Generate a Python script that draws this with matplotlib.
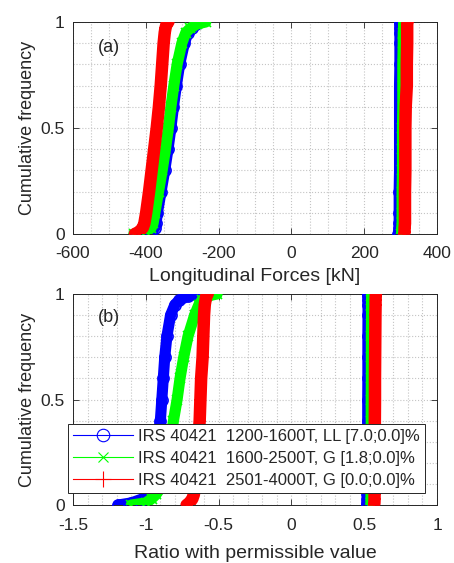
import numpy as np
import matplotlib
matplotlib.use('Agg')
import matplotlib.pyplot as plt
from matplotlib.ticker import MultipleLocator
from matplotlib.lines import Line2D

plt.rcParams['font.family'] = ['Liberation Sans', 'DejaVu Sans']

# cumulative frequency levels at which the curves were read
cum_freq = [0, 0.01, 0.03, 0.05, 0.1, 0.2, 0.3, 0.4, 0.5, 0.6, 0.7, 0.8, 0.9, 0.95, 0.97, 0.99, 1.0]

labels = ['IRS 40421  1200-1600T, LL [7.0;0.0]%',
          'IRS 40421  1600-2500T, G [1.8;0.0]%',
          'IRS 40421  2501-4000T, G [0.0;0.0]%']

# (a) longitudinal forces [kN], compressive side
force_comp_blue = [-425, -385, -375, -372, -368, -358, -348, -339, -331, -324, -316, -307, -294, -284, -274, -262, -255]
force_comp_green = [-433, -400, -385, -380, -375, -365, -355, -346, -338, -331, -323, -314, -301, -290, -278, -260, -235]
force_comp_red = [-430, -418, -408, -404, -399, -391, -384, -377, -370, -364, -359, -355, -351, -348, -346, -343, -338]
# (a) tensile side
force_tens_blue = [294, 295, 296, 296, 296, 296, 297, 297, 297, 297, 297, 298, 298, 298, 298, 299, 299]
force_tens_green = [302, 303, 303, 304, 304, 304, 305, 305, 305, 306, 306, 306, 307, 307, 308, 308, 309]
force_tens_red = [310, 311, 311, 312, 312, 312, 313, 313, 313, 314, 317, 317, 318, 318, 318, 318, 319]

# (b) ratio with permissible value
ratio_comp_blue = [-1.19, -1.10, -1.02, -0.97, -0.94, -0.93, -0.92, -0.90, -0.89, -0.88, -0.87, -0.855, -0.83, -0.80, -0.77, -0.71, -0.66]
ratio_comp_green = [-1.10, -1.00, -0.96, -0.93, -0.88, -0.85, -0.83, -0.81, -0.785, -0.765, -0.74, -0.71, -0.665, -0.635, -0.615, -0.58, -0.51]
ratio_comp_red = [-0.72, -0.70, -0.68, -0.67, -0.66, -0.65, -0.64, -0.63, -0.625, -0.62, -0.61, -0.605, -0.60, -0.595, -0.59, -0.585, -0.575]
ratio_tens_blue = [0.52, 0.521, 0.522, 0.522, 0.523, 0.523, 0.524, 0.524, 0.524, 0.525, 0.525, 0.525, 0.526, 0.526, 0.527, 0.527, 0.528]
ratio_tens_green = [0.545, 0.546, 0.546, 0.547, 0.547, 0.547, 0.548, 0.548, 0.548, 0.549, 0.549, 0.549, 0.55, 0.55, 0.55, 0.551, 0.552]
ratio_tens_red = [0.568, 0.57, 0.571, 0.571, 0.572, 0.572, 0.573, 0.573, 0.574, 0.574, 0.575, 0.576, 0.577, 0.578, 0.578, 0.579, 0.58]

colors = ['#0000ff', '#00ff00', '#ff0000']
markers = ['o', 'x', '+']
band_ms = [8, 7, 8]
band_lw = [8, 8, 9]

fig = plt.figure(figsize=(4.54, 5.63), dpi=100)
ax1 = fig.add_axes([0.1608, 0.5844, 0.8018, 0.3766])
ax2 = fig.add_axes([0.1608, 0.1030, 0.8018, 0.3748])


def draw_band(ax, xs, c, m, ms, lw):
    ax.plot(xs, cum_freq, color=c, lw=lw, solid_capstyle='round', solid_joinstyle='round', zorder=3)
    ax.plot(xs, cum_freq, color=c, lw=1, marker=m, ms=ms, mfc='none', mew=1.2, zorder=3)


for ax, groups in ((ax1, [force_comp_blue, force_comp_green, force_comp_red,
                          force_tens_blue, force_tens_green, force_tens_red]),
                   (ax2, [ratio_comp_blue, ratio_comp_green, ratio_comp_red,
                          ratio_tens_blue, ratio_tens_green, ratio_tens_red])):
    for i, xs in enumerate(groups):
        k = i % 3
        draw_band(ax, xs, colors[k], markers[k], band_ms[k], band_lw[k])

ax1.set_xlim(-600, 400)
ax1.set_xticks([-600, -400, -200, 0, 200, 400])
ax1.set_xticklabels(['-600', '-400', '-200', '0', '200', '400'])
ax1.xaxis.set_minor_locator(MultipleLocator(50))
ax2.set_xlim(-1.5, 1)
ax2.set_xticks([-1.5, -1, -0.5, 0, 0.5, 1])
ax2.set_xticklabels(['-1.5', '-1', '-0.5', '0', '0.5', '1'])
ax2.xaxis.set_minor_locator(MultipleLocator(0.1))

for ax in (ax1, ax2):
    ax.set_ylim(0, 1)
    ax.set_yticks([0, 0.5, 1])
    ax.set_yticklabels(['0', '0.5', '1'])
    ax.yaxis.set_minor_locator(MultipleLocator(0.1))
    ax.grid(True, which='both', linestyle=':', color='#c4c4c4', lw=0.8, zorder=0)
    ax.set_axisbelow(True)
    ax.tick_params(which='major', direction='in', length=4, width=0.6, colors='#262626',
                   labelsize=12.5, top=True, right=True, labelcolor='#262626')
    ax.tick_params(axis='x', which='major', pad=9)
    ax.tick_params(axis='y', which='major', pad=6)
    ax.tick_params(which='minor', length=0)
    for s in ax.spines.values():
        s.set_color('#262626')
        s.set_linewidth(0.7)
    ax.set_ylabel('Cumulative frequency', fontsize=13, color='#262626', labelpad=3)

ax1.set_xlabel('Longitudinal Forces [kN]', fontsize=14, color='#262626', labelpad=5)
ax2.set_xlabel('Ratio with permissible value', fontsize=14, color='#262626', labelpad=9)

ax1.text(-533, 0.88, '(a)', fontsize=13, color='#262626', va='center')
ax2.text(-1.33, 0.89, '(b)', fontsize=13, color='#262626', va='center')

handles = [Line2D([0], [0], color=c, lw=0.8, marker=m, ms=ms, mfc='none', mew=0.8)
           for c, m, ms in zip(colors, markers, [9, 7, 12])]
leg = ax2.legend(handles, labels, loc='lower left', bbox_to_anchor=(-0.014, 0.057),
                 fontsize=12, frameon=True, fancybox=False, framealpha=1, handlelength=3.6,
                 borderpad=0.3, labelspacing=0.42, handletextpad=0.3, borderaxespad=0)
leg.get_frame().set_edgecolor('#262626')
leg.get_frame().set_linewidth(0.7)
for t in leg.get_texts():
    t.set_color('#262626')

fig.savefig('out.png', dpi=100)
